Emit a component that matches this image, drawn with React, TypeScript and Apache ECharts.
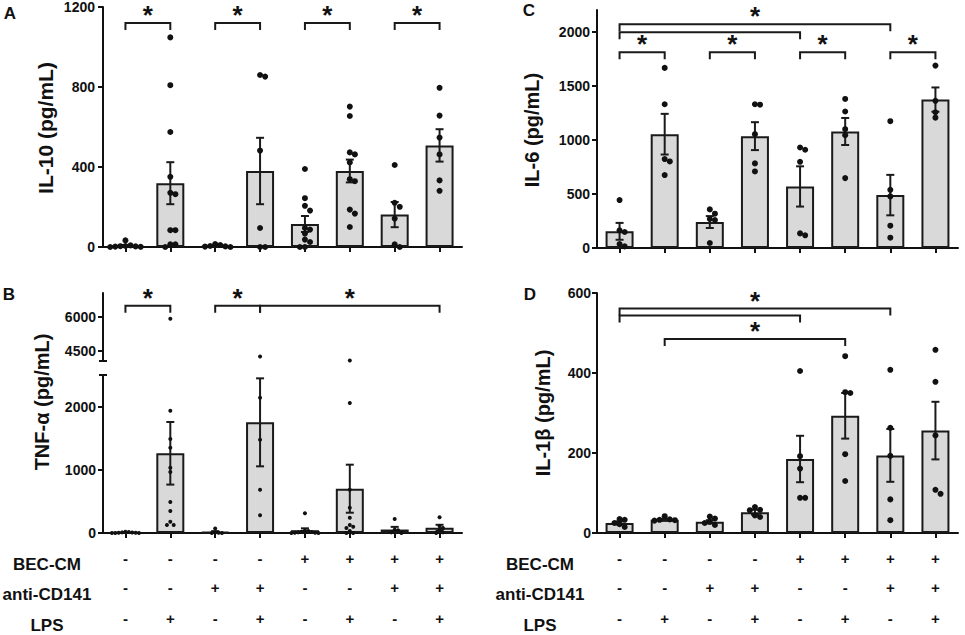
import React, { useEffect, useRef } from "react";
import * as echarts from "echarts";

// ---- conditions (table rows) ----
const becCM = ["-", "-", "-", "-", "+", "+", "+", "+"];
const antiCD141 = ["-", "-", "+", "+", "-", "-", "+", "+"];
const lps = ["-", "+", "-", "+", "-", "+", "-", "+"];
const rowNames = ["BEC-CM", "anti-CD141", "LPS"];
const categories = becCM.map((b, i) => `${b}${antiCD141[i]}${lps[i]}`);

// ---- A: IL-10 ----
const il10Mean = [7, 319, 6, 380, 115, 380, 162, 508];
const il10Sem = [3, 105, 3, 166, 40, 57, 63, 81];
const il10Points = [
  [33, 8, 5, 4, 3, 2, 1, 0],
  [1048, 809, 575, 351, 271, 264, 84, 84, 13, 13, 0],
  [15, 10, 5, 3, 2, 0],
  [860, 852, 482, 95, 0, 0],
  [390, 244, 206, 182, 95, 87, 67, 37, 25, 0, 0],
  [702, 655, 473, 463, 423, 339, 329, 187, 167, 100],
  [410, 221, 201, 142, 13, 0],
  [796, 657, 547, 463, 333, 281],
];
const il10Ticks = [0, 400, 800, 1200];
const sigA = [
  [0, 1, 1120, 1],
  [2, 3, 1120, 1],
  [4, 5, 1120, 1],
  [6, 7, 1120, 1],
];

// ---- B: TNF-alpha (broken axis) ----
const tnfMean = [10, 1261, 17, 1751, 44, 701, 55, 84];
const tnfSem = [4, 495, 13, 696, 30, 380, 42, 46];
const tnfPoints = [
  [20, 15, 10, 8, 5, 3, 0, 0, 0],
  [5912, 1935, 1487, 1350, 1033, 965, 490, 348, 179, 127, 127],
  [70, 10, 5, 0, 0],
  [4250, 2141, 1477, 685, 280],
  [311, 40, 30, 20, 15, 10, 5, 5, 0, 0],
  [4073, 2057, 685, 400, 242, 127, 100, 79, 30, 0, 0],
  [221, 50, 45, 10, 0],
  [248, 110, 80, 40, 10, 0],
];
const tnfLowTicks = [0, 1000, 2000];
const tnfHighTicks = [4500, 6000];
const tnfLowRange = [0, 2500];
const tnfHighRange = [4050, 7050];
const sigB = [
  [0, 1, 6487, 1],
  [2, 3, 6487, 1],
  [3, 7, 6487, 1],
];

// ---- C: IL-6 ----
const il6Mean = [154, 1052, 240, 1034, 569, 1077, 489, 1372];
const il6Sem = [78, 188, 55, 129, 186, 125, 187, 112];
const il6Points = [
  [443, 163, 148, 37, 15],
  [1665, 1329, 822, 800, 674],
  [357, 317, 268, 258, 46],
  [1329, 1325, 1052, 782, 708],
  [929, 908, 797, 135, 117],
  [1378, 1262, 1098, 1043, 646],
  [1172, 538, 477, 206, 95],
  [1686, 1360, 1255, 1205],
];
const il6Ticks = [0, 500, 1000, 1500, 2000];
const sigC = [
  [0, 6, 2068, 1],
  [0, 4, 1994, 0],
  [0, 1, 1809, 1],
  [2, 3, 1809, 1],
  [4, 5, 1809, 1],
  [6, 7, 1809, 1],
];

// ---- D: IL-1beta ----
const il1bMean = [25, 33, 28, 52, 185, 293, 194, 256];
const il1bSem = [4, 2, 4, 6, 58, 57, 66, 72];
const il1bPoints = [
  [35, 33, 25, 22, 15],
  [42, 34, 33, 32, 31],
  [41, 36, 28, 25, 20],
  [65, 58, 57, 44, 40],
  [405, 192, 161, 88, 88],
  [442, 352, 350, 197, 130],
  [408, 263, 193, 84, 32],
  [458, 378, 244, 108, 98],
];
const il1bTicks = [0, 200, 400, 600];
const sigD = [
  [0, 6, 561, 1],
  [0, 4, 544, 0],
  [1, 5, 485, 1],
];

const FONT = '"Liberation Sans", Arial, Helvetica, sans-serif';
const INK = "#111";
const CAT_PX = 45;

function swarm(vals: number[], ppu: number, size: number, group: number) {
  const step = size * 0.85;
  const thr = size * 0.85;
  const placed: number[][] = [];
  const out: number[][] = [];
  const sorted = [...vals].sort((a, b) => b - a);
  for (const v of sorted) {
    const py = v * ppu;
    let off = 0;
    for (let k = 0; k < 40; k++) {
      const c = k === 0 ? 0 : (k % 2 ? 1 : -1) * Math.ceil(k / 2) * step;
      if (placed.every((p) => Math.hypot(p[0] - c, p[1] - py) >= thr)) {
        off = c;
        break;
      }
    }
    placed.push([off, py]);
    out.push([group + off / CAT_PX, v]);
  }
  return out;
}

function buildOption() {
  const grids = [
    { left: 103, top: 7, width: 359, height: 240 }, // A
    { left: 103, top: 293, width: 359, height: 68 }, // B upper
    { left: 103, top: 375, width: 359, height: 158 }, // B lower
    { left: 597, top: 10, width: 361, height: 238 }, // C
    { left: 597, top: 293, width: 361, height: 240 }, // D
  ];

  const catAxis = (g: number, show: boolean) => ({
    type: "category",
    gridIndex: g,
    data: categories,
    show,
    boundaryGap: true,
    axisLine: { show: true, onZero: false, lineStyle: { color: INK, width: 2 } },
    axisTick: { show: true, alignWithLabel: true, length: 5, lineStyle: { color: INK, width: 2 } },
    axisLabel: { show: false },
    splitLine: { show: false },
  });
  const valXAxis = (g: number) => ({
    type: "value",
    gridIndex: g,
    min: -0.5,
    max: 7.5,
    show: false,
    axisLine: { onZero: false },
  });
  const rowAxis = (g: number, data: string[], offset: number) => ({
    type: "category",
    gridIndex: g,
    data,
    position: "bottom",
    offset,
    boundaryGap: true,
    axisLine: { show: false, onZero: false },
    axisTick: { show: false },
    splitLine: { show: false },
    axisLabel: {
      show: true,
      interval: 0,
      margin: 0,
      color: INK,
      fontSize: 15,
      fontWeight: "bold",
      fontFamily: FONT,
    },
  });

  const xAxis: any[] = [];
  for (let g = 0; g < 5; g++) {
    xAxis.push(catAxis(g, g !== 1));
    xAxis.push(valXAxis(g));
  }
  // table rows under B (grid 2) and D (grid 4)
  const rows = [becCM, antiCD141, lps];
  const rowOffsets = [18, 47, 78];
  [2, 4].forEach((g) => rows.forEach((r, k) => xAxis.push(rowAxis(g, r, rowOffsets[k]))));

  const yAxisBase = (g: number, min: number, max: number, ticks: number[], margin: number) => ({
    type: "value",
    gridIndex: g,
    min,
    max,
    axisLine: { show: true, onZero: false, lineStyle: { color: INK, width: 2 } },
    axisTick: { show: true, length: 5, lineStyle: { color: INK, width: 2 }, customValues: ticks },
    axisLabel: {
      show: true,
      color: INK,
      fontSize: 14,
      lineHeight: 14,
      fontWeight: "bold",
      fontFamily: FONT,
      margin,
      customValues: ticks,
      formatter: (v: number) => String(v),
    },
    splitLine: { show: false },
  });
  const yAxis = [
    yAxisBase(0, 0, 1200, il10Ticks, 8),
    yAxisBase(1, tnfHighRange[0], tnfHighRange[1], tnfHighTicks, 7),
    yAxisBase(2, tnfLowRange[0], tnfLowRange[1], tnfLowTicks, 7),
    yAxisBase(3, 0, 2200, il6Ticks, 7),
    yAxisBase(4, 0, 600, il1bTicks, 6),
  ];

  const series: any[] = [];

  const barSeries = (g: number, mean: number[]) => ({
    type: "bar",
    xAxisIndex: 2 * g,
    yAxisIndex: g,
    data: mean,
    barWidth: 28,
    itemStyle: { color: "#d9d9d9", borderColor: "#1a1a1a", borderWidth: 2 },
    z: 2,
  });
  const errSeries = (g: number, mean: number[], sem: number[]) => ({
    type: "custom",
    xAxisIndex: 2 * g + 1,
    yAxisIndex: g,
    clip: false,
    z: 4,
    data: mean.map((m, i) => [i, m, sem[i]]),
    encode: { x: 0, y: 1 },
    renderItem: (_p: any, api: any) => {
      const x = api.value(0);
      const m = api.value(1);
      const s = api.value(2);
      const top = api.coord([x, m + s]);
      const bot = api.coord([x, Math.max(0, m - s)]);
      const w = 4;
      const st = { stroke: "#1a1a1a", lineWidth: 2 };
      return {
        type: "group",
        children: [
          { type: "line", shape: { x1: top[0], y1: top[1], x2: bot[0], y2: bot[1] }, style: st },
          { type: "line", shape: { x1: top[0] - w, y1: top[1], x2: top[0] + w, y2: top[1] }, style: st },
          { type: "line", shape: { x1: bot[0] - w, y1: bot[1], x2: bot[0] + w, y2: bot[1] }, style: st },
        ],
      };
    },
  });
  const dotSeries = (g: number, data: number[][], size: number) => ({
    type: "scatter",
    xAxisIndex: 2 * g + 1,
    yAxisIndex: g,
    data,
    symbol: "circle",
    symbolSize: size,
    itemStyle: { color: INK, opacity: 1 },
    z: 5,
  });
  const sigSeries = (g: number, sig: number[][]) => ({
    type: "custom",
    xAxisIndex: 2 * g + 1,
    yAxisIndex: g,
    clip: false,
    z: 6,
    data: sig,
    encode: { x: [0, 1], y: 2 },
    renderItem: (_p: any, api: any) => {
      const a = api.coord([api.value(0), api.value(2)]);
      const b = api.coord([api.value(1), api.value(2)]);
      const foot = 7;
      const children: any[] = [
        {
          type: "polyline",
          shape: {
            points: [
              [a[0], a[1] + foot],
              [a[0], a[1]],
              [b[0], b[1]],
              [b[0], b[1] + foot],
            ],
          },
          style: { stroke: "#1a1a1a", lineWidth: 2, fill: null },
        },
      ];
      if (api.value(3) === 1) {
        children.push({
          type: "text",
          x: (a[0] + b[0]) / 2,
          y: a[1] - 8,
          style: {
            text: "*",
            fill: INK,
            font: `bold 26px ${FONT}`,
            lineHeight: 16,
            textAlign: "center",
            textVerticalAlign: "middle",
            align: "center",
            verticalAlign: "middle",
          },
        });
      }
      return { type: "group", children };
    },
  });
  const breakSeries = (g: number, yv: number) => ({
    type: "custom",
    xAxisIndex: 2 * g + 1,
    yAxisIndex: g,
    clip: false,
    z: 6,
    data: [[-0.5, yv]],
    renderItem: (_p: any, api: any) => {
      const p = api.coord([api.value(0), api.value(1)]);
      return {
        type: "line",
        shape: { x1: p[0] - 4, y1: p[1], x2: p[0] + 4, y2: p[1] },
        style: { stroke: INK, lineWidth: 2 },
      };
    },
  });

  const dotsFor = (points: number[][], ppu: number, size: number, filt?: (v: number) => boolean) => {
    const out: number[][] = [];
    points.forEach((vals, gi) => {
      const vs = filt ? vals.filter(filt) : vals;
      out.push(...swarm(vs, ppu, size, gi));
    });
    return out;
  };

  // A
  series.push(barSeries(0, il10Mean));
  series.push(dotSeries(0, dotsFor(il10Points, 240 / 1200, 6), 6));
  series.push(errSeries(0, il10Mean, il10Sem));
  series.push(sigSeries(0, sigA));
  // B
  series.push(barSeries(2, tnfMean));
  series.push(dotSeries(2, dotsFor(tnfPoints, 158 / 2500, 4, (v) => v <= tnfLowRange[1]), 4));
  series.push(dotSeries(1, dotsFor(tnfPoints, 68 / 3000, 4, (v) => v > tnfLowRange[1]), 4));
  series.push(errSeries(2, tnfMean, tnfSem));
  series.push(sigSeries(1, sigB));
  series.push(breakSeries(1, tnfHighRange[0]));
  series.push(breakSeries(2, tnfLowRange[1]));
  // C
  series.push(barSeries(3, il6Mean));
  series.push(dotSeries(3, dotsFor(il6Points, 238 / 2200, 6), 6));
  series.push(errSeries(3, il6Mean, il6Sem));
  series.push(sigSeries(3, sigC));
  // D
  series.push(barSeries(4, il1bMean));
  series.push(dotSeries(4, dotsFor(il1bPoints, 240 / 600, 6), 6));
  series.push(errSeries(4, il1bMean, il1bSem));
  series.push(sigSeries(4, sigD));

  const txt = (text: string, x: number, y: number, size: number, rot = 0) => ({
    type: "text",
    x,
    y,
    rotation: rot,
    style: {
      text,
      fill: INK,
      font: `bold ${size}px ${FONT}`,
      lineHeight: size,
      textAlign: "center",
      textVerticalAlign: "middle",
      align: "center",
      verticalAlign: "middle",
    },
  });

  const graphic: any[] = [
    txt("A", 10, 13, 17),
    txt("B", 9, 294, 17),
    txt("C", 529, 10, 17),
    txt("D", 530, 294, 17),
    txt("IL-10 (pg/mL)", 45, 128, 21, Math.PI / 2),
    txt("TNF-\u03b1 (pg/mL)", 42, 402, 20, Math.PI / 2),
    txt("IL-6 (pg/mL)", 532, 130, 20, Math.PI / 2),
    txt("IL-1\u03b2 (pg/mL)", 543, 413, 20, Math.PI / 2),
  ];
  const rowY = [564, 594, 625];
  rowNames.forEach((n, k) => {
    graphic.push(txt(n, 47, rowY[k], 17));
    graphic.push(txt(n, 540, rowY[k], 17));
  });

  return {
    animation: false,
    backgroundColor: "#fff",
    grid: grids,
    xAxis,
    yAxis,
    series,
    graphic,
  };
}

export default function App() {
  const ref = useRef<HTMLDivElement>(null);
  useEffect(() => {
    if (!ref.current) return;
    const chart = echarts.init(ref.current, undefined, { renderer: "svg" });
    chart.setOption(buildOption() as any);
    return () => chart.dispose();
  }, []);
  return (
    <div
      ref={ref}
      style={{ position: "absolute", left: 0, top: 0, width: 965, height: 635, background: "#fff" }}
    />
  );
}
